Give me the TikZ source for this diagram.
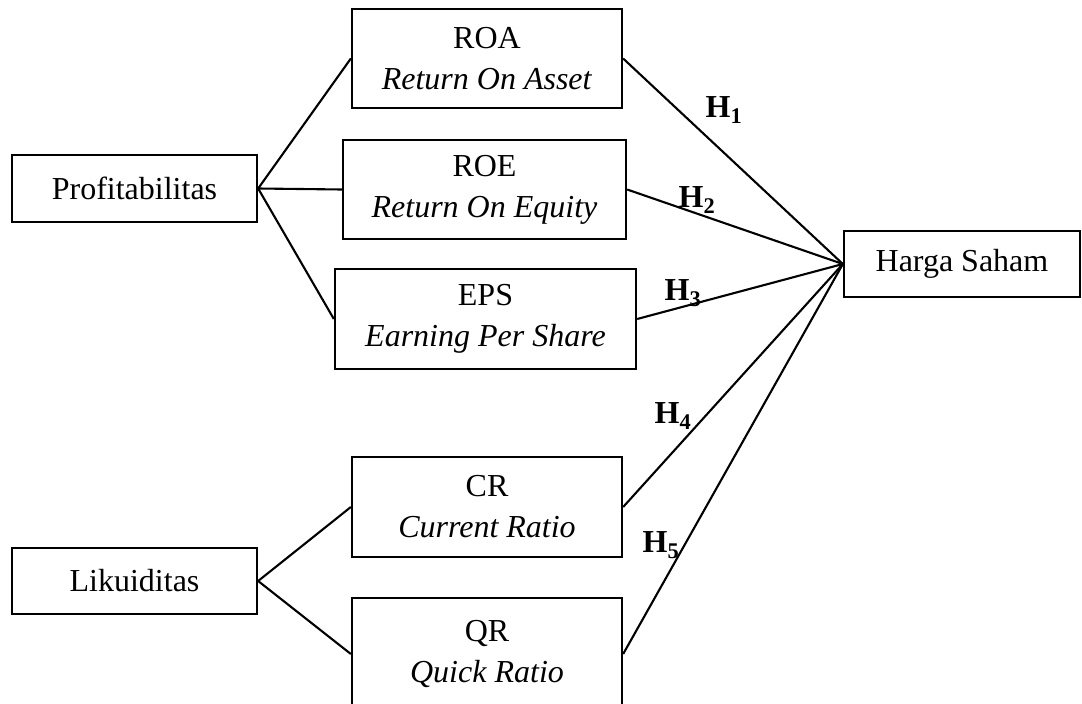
\documentclass[tikz,border=0pt]{standalone}
\usepackage{fontspec}
\setmainfont{Liberation Serif}
\begin{document}
\begin{tikzpicture}[
  x=1pt, y=-1pt,
  font=\fontsize{32}{41}\selectfont,
  box/.style={rectangle, draw, line width=2.3pt, align=center, inner sep=0pt},
  link/.style={line width=2.1pt},
  hyp/.style={inner sep=0pt, font=\fontsize{32}{41}\selectfont\bfseries}
]
  \useasboundingbox (0,0) rectangle (1082,704);

  % Variables
  \node[box, minimum width=245pt, minimum height=67pt] (profit) at (134.5,188.5) {Profitabilitas};
  \node[box, minimum width=245pt, minimum height=66pt] (likuid) at (134.5,581) {Likuiditas};
  \node[box, minimum width=236pt, minimum height=66pt] (harga) at (962,264) {Harga Saham};

  % Indicators
  \node[box, minimum width=270pt, minimum height=99pt] (roa) at (487,58.5) {ROA\\\textit{Return On Asset}};
  \node[box, minimum width=283pt, minimum height=99pt] (roe) at (484.5,189.5) {ROE\\\textit{Return On Equity}};
  \node[box, minimum width=301pt, minimum height=100pt] (eps) at (485.5,319) {EPS\\\textit{Earning Per Share}};
  \node[box, minimum width=270pt, minimum height=100pt] (cr) at (487,507) {CR\\\textit{Current Ratio}};
  \node[box, minimum width=270pt, minimum height=112pt] (qr) at (487,654) {QR\\\textit{Quick Ratio}};

  % Links
  \draw[link] (profit.east) -- (roa.west);
  \draw[link] (profit.east) -- (roe.west);
  \draw[link] (profit.east) -- (eps.west);
  \draw[link] (likuid.east) -- (cr.west);
  \draw[link] (likuid.east) -- (qr.west);

  \draw[link] (roa.east) -- (harga.west);
  \draw[link] (roe.east) -- (harga.west);
  \draw[link] (eps.east) -- (harga.west);
  \draw[link] (cr.east) -- (harga.west);
  \draw[link] (qr.east) -- (harga.west);

  % Hypotheses
  \node[hyp] (h1) at (724,110) {H\textsubscript{1}};
  \node[hyp] (h2) at (697,200) {H\textsubscript{2}};
  \node[hyp] (h3) at (683,293) {H\textsubscript{3}};
  \node[hyp] (h4) at (673,416) {H\textsubscript{4}};
  \node[hyp] (h5) at (661,545) {H\textsubscript{5}};
\end{tikzpicture}
\end{document}
